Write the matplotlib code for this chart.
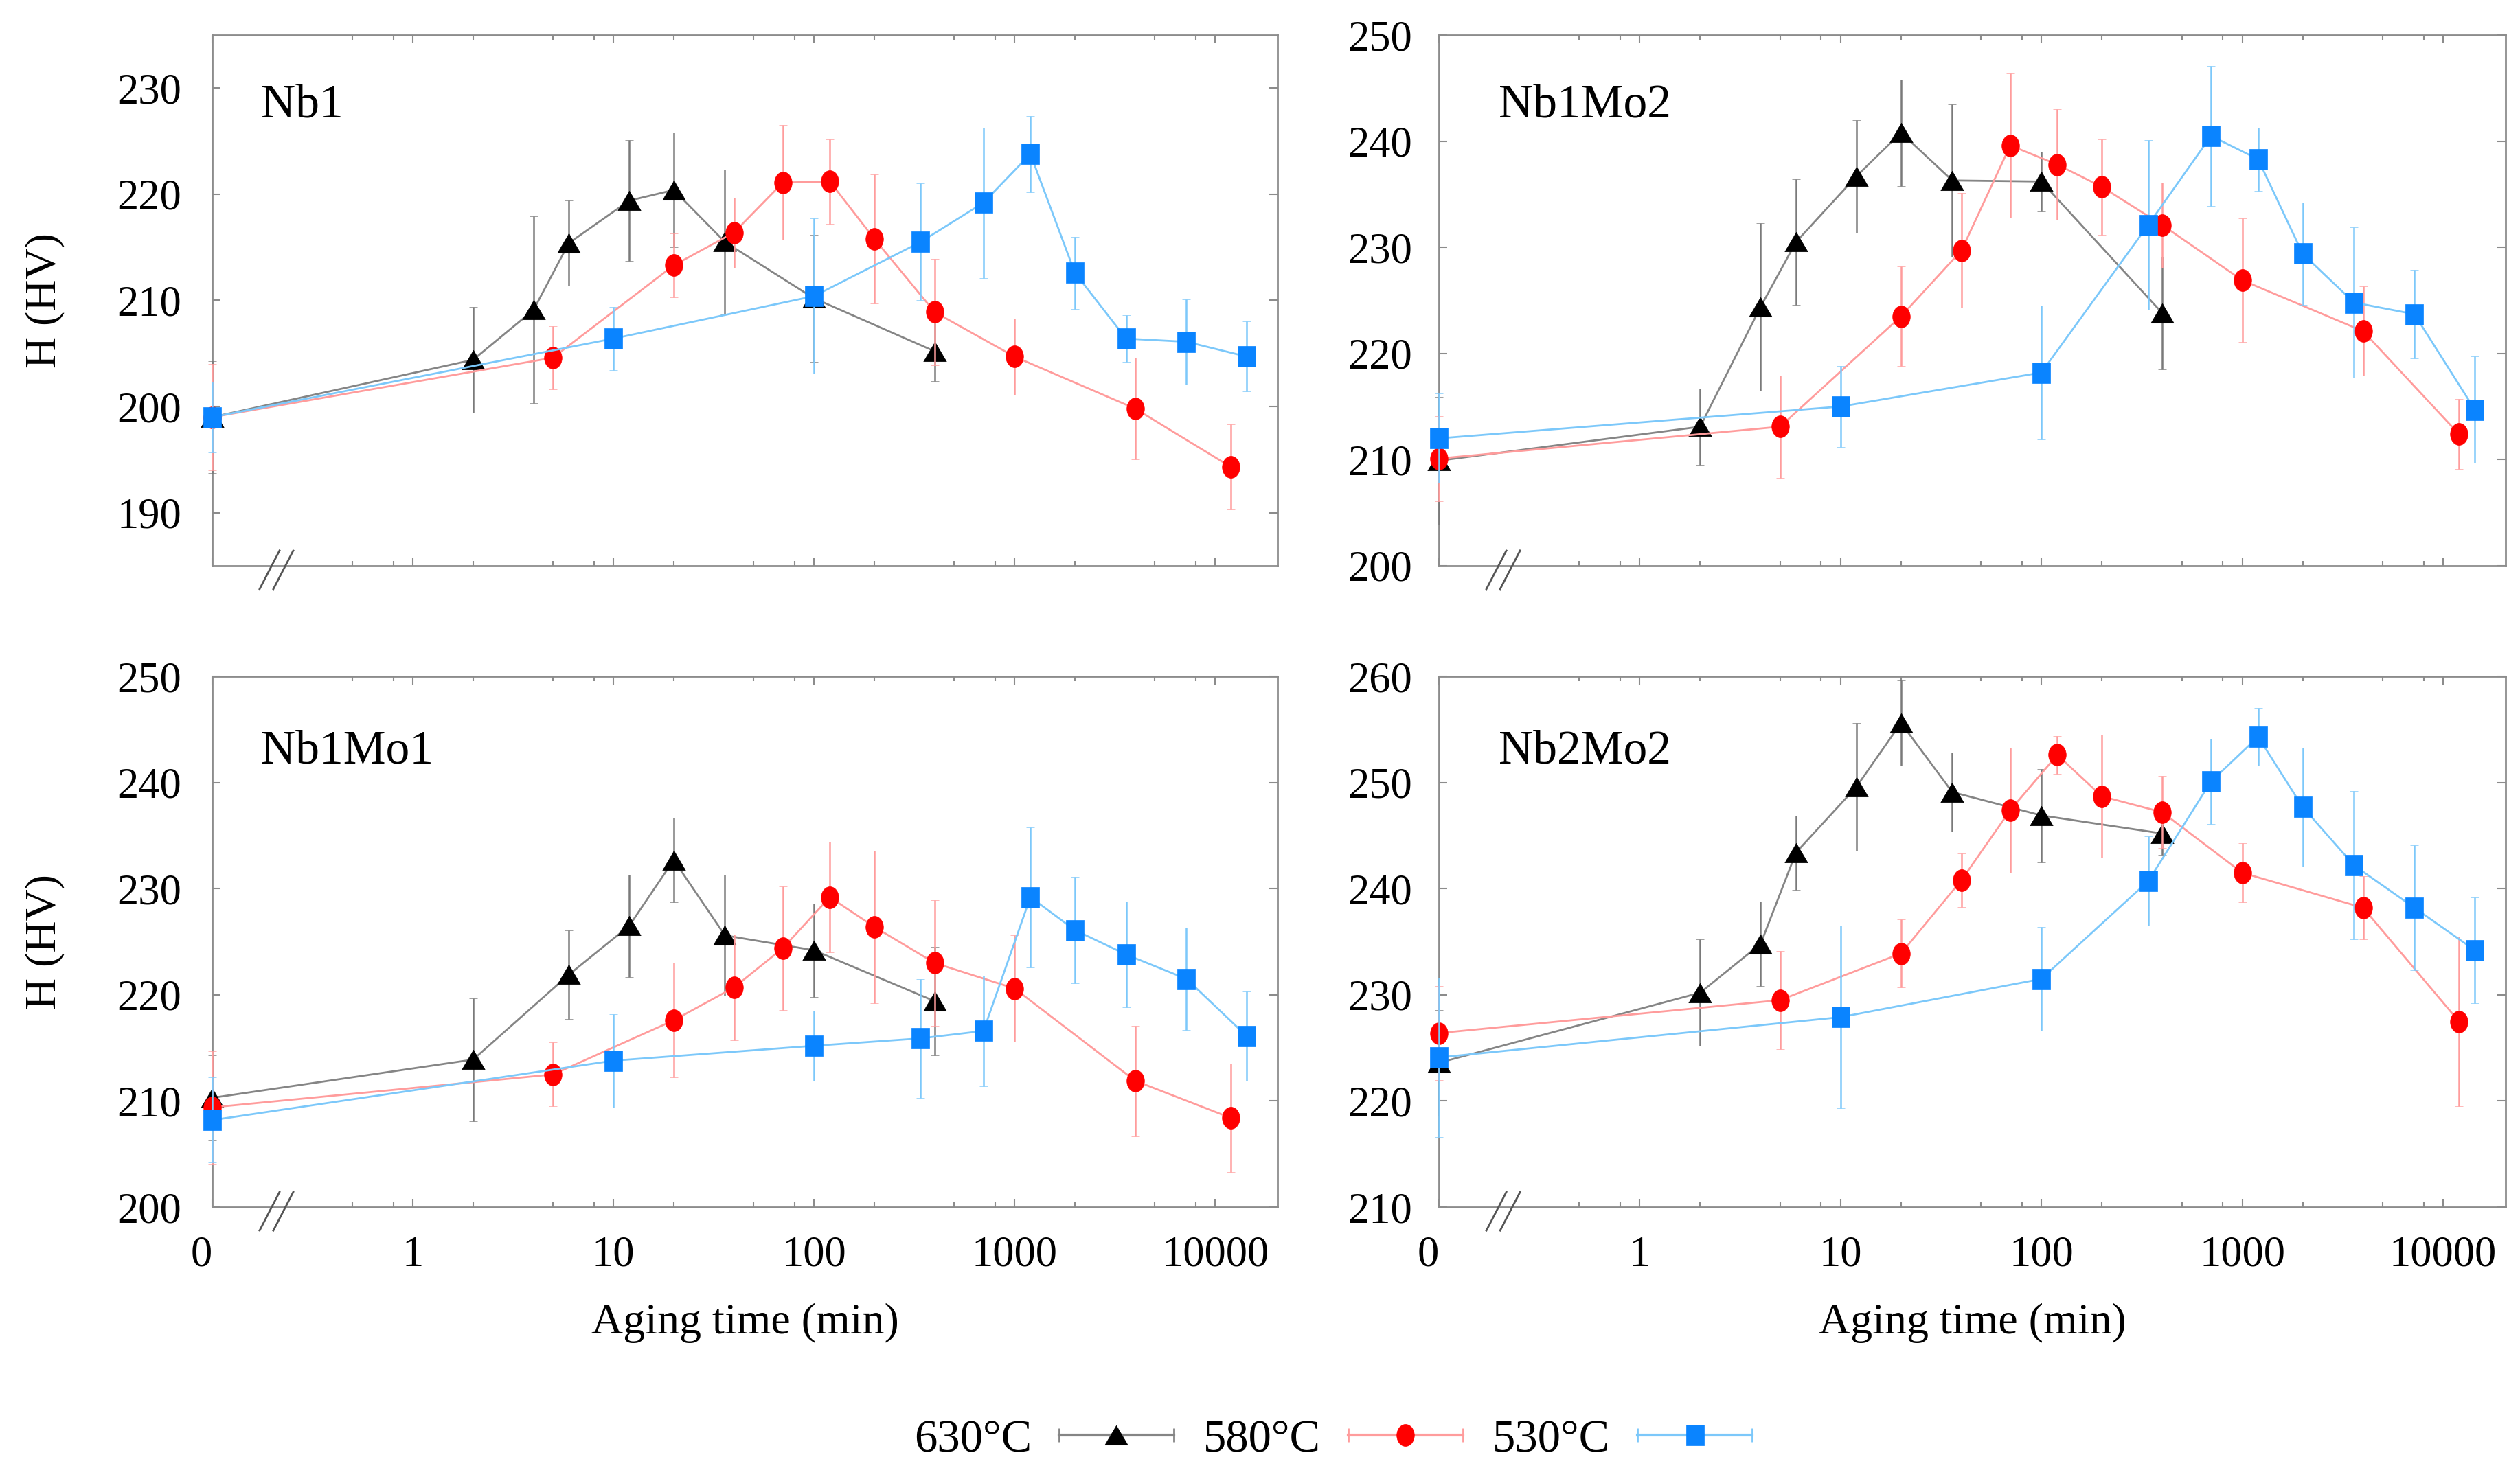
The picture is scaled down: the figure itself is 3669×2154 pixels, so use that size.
import numpy as np
import matplotlib
matplotlib.use("Agg")
import matplotlib.pyplot as plt
from matplotlib.lines import Line2D
from matplotlib.path import Path
from matplotlib.legend_handler import HandlerBase
from matplotlib.ticker import FixedLocator, NullFormatter

plt.rcParams['font.family'] = ['Liberation Serif', 'DejaVu Serif']

# ---------------- data ----------------
labels_temp = ['630°C', '580°C', '530°C']
panel_names = ['Nb1', 'Nb1Mo2', 'Nb1Mo1', 'Nb2Mo2']

t630 = [0, 2, 4, 6, 12, 20, 36, 100, 400]
t630_nb1mo1 = [0, 2, 6, 12, 20, 36, 100, 400]
t580 = [0, 5, 20, 40, 70, 120, 200, 400, 1000, 4000, 12000]
t530 = [0, 10, 100, 340, 700, 1200, 2000, 3600, 7200, 14400]

# Nb1
nb1_h630 = [199.0, 204.4, 209.1, 215.4, 219.4, 220.4, 215.5, 210.2, 205.2]
nb1_e630 = [5.3, 5.0, 8.8, 4.0, 5.7, 5.4, 6.8, 6.0, 2.8]
nb1_h580 = [199.0, 204.6, 213.3, 216.4, 221.1, 221.2, 215.8, 208.9, 204.7, 199.8, 194.3]
nb1_e580 = [5.0, 3.0, 3.0, 3.3, 5.4, 4.0, 6.1, 5.0, 3.6, 4.8, 4.0]
nb1_h530 = [199.0, 206.4, 210.4, 215.5, 219.2, 223.8, 212.6, 206.4, 206.1, 204.7]
nb1_e530 = [3.3, 3.0, 7.3, 5.5, 7.1, 3.6, 3.4, 2.2, 4.0, 3.3]

# Nb1Mo2
nb1mo2_h630 = [209.9, 213.1, 224.4, 230.5, 236.7, 240.8, 236.3, 236.2, 223.8]
nb1mo2_e630 = [6.0, 3.6, 7.9, 5.9, 5.3, 5.0, 7.2, 2.8, 5.3]
nb1mo2_h580 = [210.1, 213.1, 223.5, 229.7, 239.6, 237.8, 235.7, 232.1, 226.9, 222.1, 212.4]
nb1mo2_e580 = [4.0, 4.8, 4.7, 5.4, 6.8, 5.2, 4.5, 4.0, 5.8, 4.2, 3.3]
nb1mo2_h530 = [212.0, 215.0, 218.2, 232.1, 240.5, 238.3, 229.4, 224.8, 223.7, 214.7]
nb1mo2_e530 = [4.2, 3.8, 6.3, 8.0, 6.6, 3.0, 4.8, 7.1, 4.2, 5.0]

# Nb1Mo1
nb1mo1_h630 = [210.3, 213.9, 221.9, 226.5, 232.7, 225.6, 224.2, 219.4]
nb1mo1_e630 = [4.0, 5.8, 4.2, 4.8, 4.0, 5.7, 4.4, 5.1]
nb1mo1_h580 = [209.4, 212.5, 217.6, 220.7, 224.4, 229.2, 226.4, 223.0, 220.6, 211.9, 208.4]
nb1mo1_e580 = [5.3, 3.0, 5.4, 5.0, 5.8, 5.2, 7.2, 5.9, 5.0, 5.2, 5.1]
nb1mo1_h530 = [208.2, 213.8, 215.2, 215.9, 216.6, 229.2, 226.1, 223.8, 221.5, 216.1]
nb1mo1_e530 = [4.0, 4.4, 3.3, 5.6, 5.2, 6.6, 5.0, 5.0, 4.8, 4.2]

# Nb2Mo2
nb2mo2_h630 = [223.6, 230.2, 234.8, 243.4, 249.6, 255.6, 249.1, 246.9, 245.2]
nb2mo2_e630 = [5.0, 5.0, 4.0, 3.5, 6.0, 4.0, 3.7, 4.4, 2.0]
nb2mo2_h580 = [226.4, 229.5, 233.9, 240.8, 247.4, 252.6, 248.7, 247.2, 241.5, 238.2, 227.5]
nb2mo2_e580 = [4.4, 4.6, 3.2, 2.5, 5.9, 1.8, 5.8, 3.4, 2.8, 3.0, 8.0]
nb2mo2_h530 = [224.1, 227.9, 231.5, 240.7, 250.1, 254.3, 247.7, 242.2, 238.2, 234.2]
nb2mo2_e530 = [7.5, 8.6, 4.9, 4.2, 4.0, 2.7, 5.6, 7.0, 5.9, 5.0]

y_limits = [(185, 235), (200, 250), (200, 250), (210, 260)]
y_ticks = [[190, 200, 210, 220, 230],
           [200, 210, 220, 230, 240, 250],
           [200, 210, 220, 230, 240, 250],
           [210, 220, 230, 240, 250, 260]]
x_major = [0.1, 1, 10, 100, 1000, 10000]
x_major_labels = ['0', '1', '10', '100', '1000', '10000']
x_minor = [0.5, 0.8] + [m * 10 ** k for k in range(0, 4) for m in (2, 5, 8)]
ZERO_POS = 0.1   # where t = 0 is drawn on the broken log axis

panels = [
    [(t630, nb1_h630, nb1_e630), (t580, nb1_h580, nb1_e580), (t530, nb1_h530, nb1_e530)],
    [(t630, nb1mo2_h630, nb1mo2_e630), (t580, nb1mo2_h580, nb1mo2_e580), (t530, nb1mo2_h530, nb1mo2_e530)],
    [(t630_nb1mo1, nb1mo1_h630, nb1mo1_e630), (t580, nb1mo1_h580, nb1mo1_e580), (t530, nb1mo1_h530, nb1mo1_e530)],
    [(t630, nb2mo2_h630, nb2mo2_e630), (t580, nb2mo2_h580, nb2mo2_e580), (t530, nb2mo2_h530, nb2mo2_e530)],
]

# ---------------- styles ----------------
tri_path = Path([(0, 0.85), (-1, -0.85), (1, -0.85), (0, 0.85)],
                [Path.MOVETO, Path.LINETO, Path.LINETO, Path.CLOSEPOLY])
uc = Path.unit_circle()
ell_path = Path(uc.vertices * np.array([0.8, 1.0]), uc.codes)
sq_path = Path([(-0.9, -1), (0.9, -1), (0.9, 1), (-0.9, 1), (-0.9, -1)],
               [Path.MOVETO, Path.LINETO, Path.LINETO, Path.LINETO, Path.CLOSEPOLY])

styles = [
    dict(marker=tri_path, ms=24, mfc='#000000', line='#858585', err='#7a7a7a'),
    dict(marker=ell_path, ms=23, mfc='#ff0000', line='#ff9c9c', err='#ff9c9c'),
    dict(marker=sq_path, ms=21, mfc='#0a84ff', line='#7cc8fa', err='#7cc8fa'),
]

SPINE = '#8c8c8c'
TICK_FS = 45
LABEL_FS = 46

fig = plt.figure(figsize=(36.69, 21.54), dpi=100)
positions = [
    (0.0842, 0.6175, 0.4228, 0.3588),
    (0.5710, 0.6175, 0.4233, 0.3588),
    (0.0842, 0.1838, 0.4228, 0.3589),
    (0.5710, 0.1838, 0.4233, 0.3589),
]
text_x = [0.046, 0.056, 0.046, 0.056]
text_y = [0.867, 0.867, 0.858, 0.858]

legend_handles = []
for i, ax_pos in enumerate(positions):
    ax = fig.add_axes(ax_pos)
    for j, (t, h, e) in enumerate(panels[i]):
        st = styles[j]
        x = [ZERO_POS if v == 0 else v for v in t]
        cont = ax.errorbar(x, h, yerr=e, color=st['line'], lw=2.0,
                           ecolor=st['err'], elinewidth=1.8, capsize=4.5, capthick=1.8,
                           marker=st['marker'], ms=st['ms'], mfc=st['mfc'], mec=st['mfc'],
                           mew=0.5, zorder=3 + j, clip_on=False)
        if i == 0:
            legend_handles.append(cont[0])
    ax.set_xscale('log')
    ax.set_xlim(ZERO_POS, 20500)
    ax.set_ylim(*y_limits[i])
    ax.set_yticks(y_ticks[i])
    ax.xaxis.set_major_locator(FixedLocator(x_major))
    ax.xaxis.set_minor_locator(FixedLocator(x_minor))
    ax.xaxis.set_minor_formatter(NullFormatter())
    ax.yaxis.set_minor_locator(FixedLocator([]))
    ypad = 32 if i % 2 == 0 else 28
    ax.tick_params(axis='both', which='both', direction='in', top=True, right=True,
                   color=SPINE, labelsize=TICK_FS)
    ax.tick_params(axis='x', which='major', pad=30)
    ax.tick_params(axis='y', which='major', pad=ypad)
    ax.tick_params(which='major', length=8.6, width=1.5)
    ax.tick_params(which='minor', length=5, width=1.5)
    if i >= 2:
        ax.set_xticklabels(x_major_labels)
        ax.get_xticklabels()[0].set_ha('right')
        ax.set_xlabel('Aging time (min)', fontsize=LABEL_FS)
        ax.xaxis.label.set_va('center')
        ax.xaxis.set_label_coords(0.5, -0.219)
    else:
        ax.set_xticklabels([])
    if i % 2 == 0:
        ax.set_ylabel('H (HV)', fontsize=LABEL_FS)
        ax.yaxis.label.set_va('center')
        ax.yaxis.set_label_coords(-0.157, 0.5)
    for sp in ax.spines.values():
        sp.set_color(SPINE)
        sp.set_linewidth(2.0)
    ax.text(text_x[i], text_y[i], panel_names[i], transform=ax.transAxes,
            fontsize=50, ha='left', va='center')
    # axis-break marks "//"
    for dx in (0.0, 0.0129):
        ax.plot([0.0445 + dx, 0.0632 + dx], [-0.044, 0.0285], transform=ax.transAxes,
                color='#555555', lw=2.0, clip_on=False, zorder=10)


class CapLineHandler(HandlerBase):
    def create_artists(self, legend, orig_handle, xdescent, ydescent, width, height,
                       fontsize, trans):
        y = height / 2.0 - ydescent
        x0, x1 = -xdescent, width - xdescent
        col = orig_handle.get_color()
        base = Line2D([x0, x1], [y, y], color=col, lw=3.0)
        caps = Line2D([x0, x1], [y, y], ls='none', marker='|', ms=14, mew=2.0, color=col)
        mk = Line2D([(x0 + x1) / 2.0], [y], ls='none', marker=orig_handle.get_marker(),
                    ms=orig_handle.get_markersize(), mfc=orig_handle.get_markerfacecolor(),
                    mec=orig_handle.get_markerfacecolor(), mew=0.5)
        for a in (base, caps, mk):
            a.set_transform(trans)
        return [base, caps, mk]


fig.legend(legend_handles, labels_temp, loc='center', bbox_to_anchor=(0.529, 0.0265),
           ncol=3, markerfirst=False, frameon=False, fontsize=48,
           handlelength=2.5, handletextpad=0.6, columnspacing=0.65, borderpad=0,
           handler_map={Line2D: CapLineHandler()})

fig.savefig('out.png', dpi=100)
